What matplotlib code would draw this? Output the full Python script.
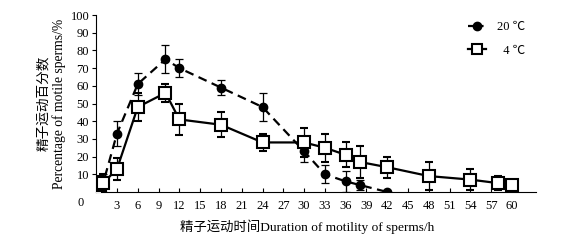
import matplotlib
matplotlib.use("Agg")
import matplotlib.pyplot as plt
from matplotlib.lines import Line2D

plt.rcParams['font.family'] = ['Liberation Serif', 'Noto Sans CJK SC', 'DejaVu Sans']

x20 = [0, 0.5, 1, 3, 6, 10, 12, 18, 24, 30, 33, 36, 38, 42]
y20 = [3, 4, 5, 33, 61, 75, 70, 59, 48, 23, 10, 6, 4, 0]
e20 = [4, 4, 5, 7, 6, 8, 5, 4, 8, 6, 5, 6, 3, 0]

x4 = [0, 0.5, 1, 3, 6, 10, 12, 18, 24, 30, 33, 36, 38, 42, 48, 54, 58, 60]
y4 = [2, 4, 5, 13, 48, 56, 41, 38, 28, 28, 25, 21, 17, 14, 9, 7, 5, 4]
e4 = [6, 5, 5, 6, 8, 5, 9, 7, 5, 8, 8, 7, 9, 6, 8, 6, 4, 1]

xticks = list(range(3, 61, 3))
yticks = list(range(10, 101, 10))

fig = plt.figure(figsize=(5.76, 2.4), dpi=100)
ax = fig.add_axes([0.167, 0.2, 0.764, 0.7375])

ax.errorbar(x20, y20, yerr=e20, fmt='o--', color='black', mfc='black', ms=6,
            lw=1.6, elinewidth=0.9, capsize=3, capthick=0.9, dashes=(4, 2.5),
            zorder=3)
ax.errorbar(x4, y4, yerr=e4, fmt='s-', color='black', mfc='white', mec='black',
            mew=1.5, ms=8, lw=1.6, elinewidth=0.9, capsize=3, capthick=0.9,
            zorder=4)

ax.set_xlim(0, 63.5)
ax.set_ylim(0, 100)
ax.set_xticks(xticks)
ax.set_yticks(yticks)
ax.spines['top'].set_visible(False)
ax.spines['right'].set_visible(False)
ax.tick_params(axis='x', direction='in', length=3, labelsize=9, pad=6)
ax.tick_params(axis='y', direction='out', length=3, labelsize=9, pad=2)
ax.text(-0.035, -0.06, '0', transform=ax.transAxes, ha='center', va='center', fontsize=9)

ax.set_xlabel('精子运动时间Duration of motility of sperms/h', fontsize=9.6, labelpad=5, x=0.48)
ax.set_ylabel('精子运动百分数\nPercentage of motile sperms/%', fontsize=9.8, labelpad=3,
              linespacing=1.2)

h20 = Line2D([], [], color='black', marker='o', ms=6, lw=1.6, linestyle='--', dashes=(2.5, 2))
h4 = Line2D([], [], color='black', marker='s', ms=7, mfc='white', mew=1.5, lw=1.6)
ax.legend([h20, h4], ['20 ℃', '  4 ℃'], loc='upper right', bbox_to_anchor=(1.0, 1.03),
          frameon=False, fontsize=9, handlelength=1.4, handletextpad=0.9, labelspacing=0.95)

fig.savefig('out.png', dpi=100)
